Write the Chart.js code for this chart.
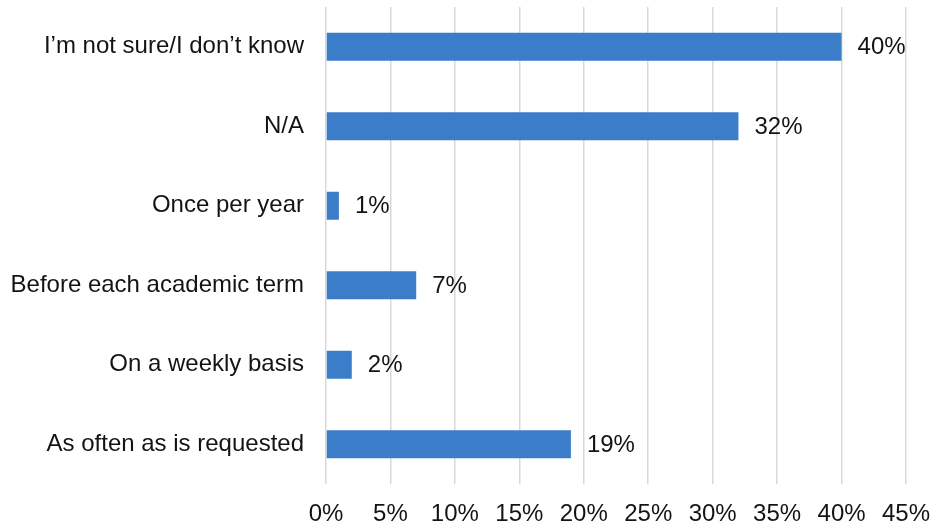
<!DOCTYPE html>
<html>
<head>
<meta charset="utf-8">
<script src="https://cdn.jsdelivr.net/npm/chart.js@4/dist/chart.umd.min.js"></script>
<style>
    body { margin: 0; background: #fff; }
    #frequencyBar { display: block; }
</style>
</head>
<body>
<canvas id="frequencyBar" width="930" height="525"></canvas>
<script>
var answers = [
    'I’m not sure/I don’t know',
    'N/A',
    'Once per year',
    'Before each academic term',
    'On a weekly basis',
    'As often as is requested'
];
var percents = [40, 32, 1, 7, 2, 19];
var axisMax = 45;
var axisStep = 5;

var labelFont = { family: "'Liberation Sans', Arial, sans-serif", size: 24 };
var textColor = '#141414';

// writes "xx%" just past the end of every bar
var valueLabels = {
    id: 'valueLabels',
    afterDatasetsDraw: function (chart) {
        var ctx = chart.ctx;
        var meta = chart.getDatasetMeta(0);
        ctx.save();
        ctx.font = labelFont.size + 'px ' + labelFont.family;
        ctx.fillStyle = textColor;
        ctx.textAlign = 'left';
        ctx.textBaseline = 'middle';
        meta.data.forEach(function (bar, i) {
            ctx.fillText(percents[i] + '%', bar.x + 16, bar.y + 1);
        });
        ctx.restore();
    }
};

function renderChart(canvas, config) {
    let ctx = document.getElementById(canvas).getContext('2d');
    let chart = new Chart(ctx, config);
}

var barConfig = {
    type: 'bar',
    data: {
        labels: answers,
        datasets: [{
            data: percents,
            backgroundColor: '#3b7dc8',
            borderWidth: 0,
            categoryPercentage: 1,
            barPercentage: 0.352
        }]
    },
    options: {
        indexAxis: 'y',
        responsive: false,
        animation: false,
        layout: {
            padding: { top: 7, right: 24, bottom: 0, left: 0 }
        },
        plugins: {
            legend: { display: false },
            tooltip: { enabled: false }
        },
        scales: {
            x: {
                min: 0,
                max: axisMax,
                border: { display: false },
                grid: {
                    color: '#d9d9d9',
                    lineWidth: 1.5,
                    drawTicks: false
                },
                ticks: {
                    stepSize: axisStep,
                    padding: 16,
                    maxRotation: 0,
                    color: textColor,
                    font: labelFont,
                    callback: function (value) {
                        return value + '%';
                    }
                },
                afterFit: function (scale) {
                    scale.height = 41;
                    scale.paddingLeft = 0;
                    scale.paddingRight = 0;
                }
            },
            y: {
                border: { display: false },
                grid: { display: false, drawTicks: false },
                ticks: {
                    padding: 22,
                    color: textColor,
                    font: labelFont
                },
                afterFit: function (scale) {
                    scale.width = 326;
                    scale.paddingTop = 0;
                    scale.paddingBottom = 0;
                }
            }
        }
    },
    plugins: [valueLabels]
};

renderChart('frequencyBar', barConfig);
</script>
</body>
</html>
